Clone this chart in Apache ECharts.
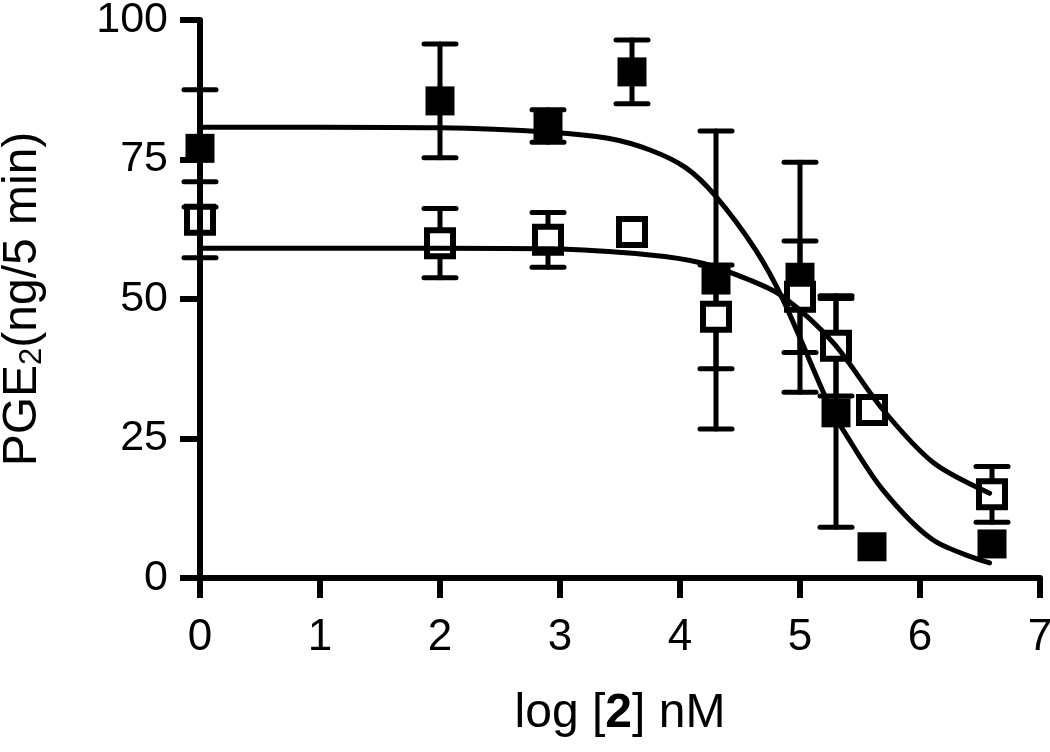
<!DOCTYPE html>
<html>
<head>
<meta charset="utf-8">
<style>
  html, body { margin: 0; padding: 0; background: #fff; }
  #chart { width: 1050px; height: 752px; }
</style>
<script src="https://cdn.jsdelivr.net/npm/echarts@6/dist/echarts.min.js"></script>
</head>
<body>
<div id="chart"></div>
<script>
// log [2] nM positions of the measured points
var doseX = [0, 2, 2.9, 3.6, 4.3, 5.0, 5.3, 5.6, 6.6]

// filled squares
var filledMean = [77, 85.5, 81, 90.7, 53.4, 53.9, 29.6, 5.6, 6.1]
var filledErr = [10.5, 10.2, 2.9, 5.7, 26.7, 20.6, 20.5, 0, 0]

// open squares
var openMean = [64.2, 60, 60.6, 62, 46.8, 50.4, 41.6, 30.1, 15]
var openErr = [6.8, 6.2, 4.9, 0, 9.3, 10, 9, 0, 5]

// fitted curves
var filledCurveX = [0, 1, 2, 2.92, 3.4, 3.75, 4.05, 4.29, 4.63, 4.86, 5.25, 5.36, 5.69, 6.11, 6.58]
var filledCurveY = [80.8, 80.8, 80.7, 79.9, 78.8, 76.7, 73.5, 68.6, 58.8, 49.8, 30.6, 26.5, 15.8, 6.8, 2.7]
var openCurveX = [0, 1, 2, 2.92, 3.75, 4.17, 4.58, 4.86, 5.28, 5.69, 6.11, 6.58]
var openCurveY = [59.1, 59.1, 59.1, 59.0, 57.9, 56.5, 53.4, 50.4, 42.1, 30.2, 20.7, 15.2]

var xTicks = [0, 1, 2, 3, 4, 5, 6, 7]
var yTicks = [0, 25, 50, 75, 100]

var font = "'Liberation Sans', Arial, Helvetica, sans-serif"

function pairs (xs, ys) {
  return xs.map(function (x, i) { return [x, ys[i]] })
}

function errData (xs, mean, err) {
  var out = []
  xs.forEach(function (x, i) {
    if (err[i] > 0) out.push([x, mean[i] - err[i], mean[i] + err[i]])
  })
  return out
}

function renderErr (params, api) {
  var lo = api.coord([api.value(0), api.value(1)])
  var hi = api.coord([api.value(0), api.value(2)])
  var half = 16
  var style = { stroke: '#000', lineWidth: 5, lineCap: 'round' }
  return {
    type: 'group',
    children: [
      { type: 'line', shape: { x1: lo[0], y1: lo[1], x2: hi[0], y2: hi[1] }, style: style },
      { type: 'line', shape: { x1: lo[0] - half, y1: lo[1], x2: lo[0] + half, y2: lo[1] }, style: style },
      { type: 'line', shape: { x1: hi[0] - half, y1: hi[1], x2: hi[0] + half, y2: hi[1] }, style: style }
    ]
  }
}

var chart = echarts.init(document.getElementById('chart'))

var axisLine = { lineStyle: { color: '#000', width: 6, cap: 'round' } }
var axisTick = { length: 20, lineStyle: { color: '#000', width: 6 } }

chart.setOption({
  animation: false,
  backgroundColor: '#fff',
  grid: {
    left: 200,
    right: 10,
    top: 20,
    bottom: 174,
    containLabel: false,
    outerBoundsMode: 'none'
  },
  xAxis: {
    type: 'value',
    min: xTicks[0],
    max: xTicks[xTicks.length - 1],
    interval: 1,
    z: 5,
    axisLine: axisLine,
    axisTick: axisTick,
    splitLine: { show: false },
    axisLabel: { color: '#000', fontSize: 44, fontFamily: font, margin: 38 },
    name: '{a|log [}{b|2}{a|] nM}',
    nameLocation: 'middle',
    nameGap: 112,
    nameTextStyle: {
      rich: {
        a: { fontSize: 48, fontFamily: font, color: '#000' },
        b: { fontSize: 48, fontFamily: font, color: '#000', fontWeight: 'bold' }
      }
    }
  },
  yAxis: {
    type: 'value',
    min: yTicks[0],
    max: yTicks[yTicks.length - 1],
    interval: 25,
    z: 5,
    axisLine: axisLine,
    axisTick: axisTick,
    splitLine: { show: false },
    axisLabel: { color: '#000', fontSize: 43, fontFamily: font, margin: 32 },
    name: '{a|PGE}{s|2}{a|(ng/5 min)}',
    nameLocation: 'middle',
    nameRotate: 90,
    nameGap: 150,
    nameTextStyle: {
      rich: {
        a: { fontSize: 48, fontFamily: font, color: '#000', lineHeight: 54 },
        s: { fontSize: 31, fontFamily: font, color: '#000', lineHeight: 36, padding: [18, 0, 0, 0] }
      }
    }
  },
  series: [
    {
      type: 'custom',
      z: 1,
      clip: false,
      renderItem: renderErr,
      data: errData(doseX, filledMean, filledErr)
    },
    {
      type: 'custom',
      z: 1,
      clip: false,
      renderItem: renderErr,
      data: errData(doseX, openMean, openErr)
    },
    {
      type: 'scatter',
      z: 2,
      clip: false,
      symbol: 'rect',
      symbolSize: 29,
      itemStyle: { color: '#000', opacity: 1 },
      data: pairs(doseX, filledMean)
    },
    {
      type: 'scatter',
      z: 2,
      clip: false,
      symbol: 'rect',
      symbolSize: 26,
      itemStyle: { color: '#fff', borderColor: '#000', borderWidth: 6, opacity: 1 },
      data: pairs(doseX, openMean)
    },
    {
      type: 'line',
      z: 3,
      smooth: 0.3,
      showSymbol: false,
      lineStyle: { color: '#000', width: 5, cap: 'round' },
      data: pairs(filledCurveX, filledCurveY)
    },
    {
      type: 'line',
      z: 3,
      smooth: 0.3,
      showSymbol: false,
      lineStyle: { color: '#000', width: 5, cap: 'round' },
      data: pairs(openCurveX, openCurveY)
    }
  ]
})

window.addEventListener('resize', function () {
  chart.resize()
})
</script>
</body>
</html>
